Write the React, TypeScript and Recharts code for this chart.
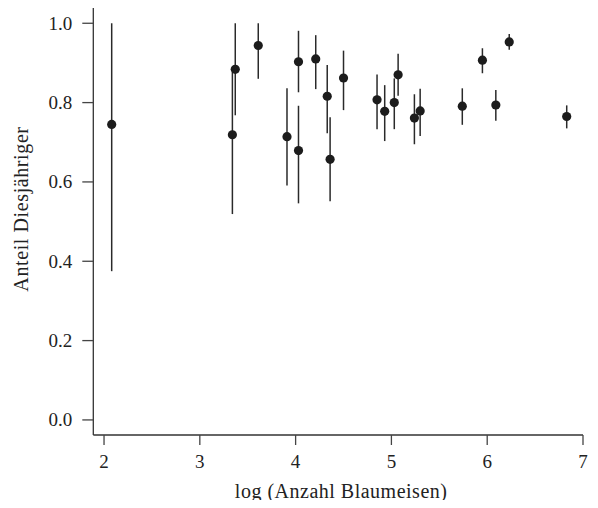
import { ScatterChart, Scatter, XAxis, YAxis, ErrorBar, Label } from 'recharts';

// log of the number of blue tits per site
const logCount = [2.08, 3.34, 3.37, 3.61, 3.91, 4.03, 4.03, 4.21, 4.33, 4.36, 4.5, 4.85, 4.93, 5.03, 5.07, 5.24, 5.3, 5.74, 5.95, 6.09, 6.23, 6.83];
// share of yearlings
const share = [0.745, 0.719, 0.884, 0.944, 0.714, 0.679, 0.903, 0.91, 0.816, 0.657, 0.862, 0.807, 0.778, 0.8, 0.87, 0.761, 0.779, 0.791, 0.907, 0.794, 0.953, 0.765];
const lower = [0.375, 0.519, 0.768, 0.86, 0.591, 0.546, 0.826, 0.834, 0.723, 0.551, 0.781, 0.733, 0.703, 0.733, 0.817, 0.695, 0.716, 0.744, 0.874, 0.754, 0.933, 0.735];
const upper = [1.0, 0.878, 1.0, 1.0, 0.836, 0.792, 0.981, 0.97, 0.895, 0.763, 0.931, 0.871, 0.844, 0.861, 0.923, 0.821, 0.835, 0.836, 0.937, 0.832, 0.973, 0.793];

const xTicks = [2, 3, 4, 5, 6, 7];
const yTicks = [0, 0.2, 0.4, 0.6, 0.8, 1.0];

const data = logCount.map((x, i) => ({
  x,
  y: share[i],
  err: [share[i] - lower[i], upper[i] - share[i]],
}));

const FONT = '"Liberation Serif", "Times New Roman", serif';
const INK = '#222';

const Dot = (props: any) => <circle cx={props.cx} cy={props.cy} r={4.6} fill="#1c1c1c" />;

const renderXTick = (props: any) => (
  <text
    key={`xt-${props.index}`}
    x={props.x}
    y={props.y}
    dy={23}
    textAnchor="middle"
    style={{ fill: INK, fontSize: 19, fontFamily: FONT }}
  >
    {props.payload.value}
  </text>
);

const renderYTick = (props: any) => (
  <text
    key={`yt-${props.index}`}
    x={props.x}
    y={props.y}
    dy={6.5}
    textAnchor="end"
    style={{ fill: INK, fontSize: 19, fontFamily: FONT }}
  >
    {Number(props.payload.value).toFixed(1)}
  </text>
);

const XTitle = (props: any) => {
  const vb = props.viewBox || { x: 93, y: 435, width: 490, height: 73 };
  return (
    <text x={vb.x + vb.width / 2 + 3} y={vb.y + 63} textAnchor="middle" style={{ fill: INK, fontSize: 20, fontFamily: FONT, letterSpacing: 0.5 }}>
      log (Anzahl Blaumeisen)
    </text>
  );
};

const YTitle = (props: any) => {
  const vb = props.viewBox || { x: 0, y: 7, width: 93, height: 428 };
  const cy = vb.y + vb.height / 2 - 12;
  return (
    <text transform={`translate(28, ${cy}) rotate(-90)`} textAnchor="middle" style={{ fill: INK, fontSize: 20, fontFamily: FONT, letterSpacing: 0.6 }}>
      Anteil Diesjähriger
    </text>
  );
};

export default function App() {
  return (
    <div style={{ margin: -8, width: 598, height: 508, background: '#fff' }}>
      <ScatterChart width={598} height={508} margin={{ top: 7, right: 15, bottom: 0, left: 0 }}>
        <XAxis
          type="number"
          dataKey="x"
          domain={[1.888, 7.0]}
          ticks={xTicks}
          allowDataOverflow
          height={73}
          tickSize={10}
          tickMargin={0}
          tick={renderXTick}
          tickLine={{ stroke: '#444', strokeWidth: 1.3 }}
          axisLine={{ stroke: '#333', strokeWidth: 1.3 }}
        >
          <Label content={<XTitle />} />
        </XAxis>
        <YAxis
          type="number"
          dataKey="y"
          domain={[-0.038, 1.041]}
          ticks={yTicks}
          allowDataOverflow
          width={93.3}
          tickSize={11}
          tickMargin={10}
          tick={renderYTick}
          tickLine={{ stroke: '#444', strokeWidth: 1.3 }}
          axisLine={{ stroke: '#333', strokeWidth: 1.3 }}
        >
          <Label content={<YTitle />} />
        </YAxis>
        <Scatter data={data} shape={<Dot />} isAnimationActive={false}>
          <ErrorBar dataKey="err" direction="y" width={0} stroke="#2a2a2a" strokeWidth={1.5} isAnimationActive={false} />
        </Scatter>
      </ScatterChart>
    </div>
  );
}
